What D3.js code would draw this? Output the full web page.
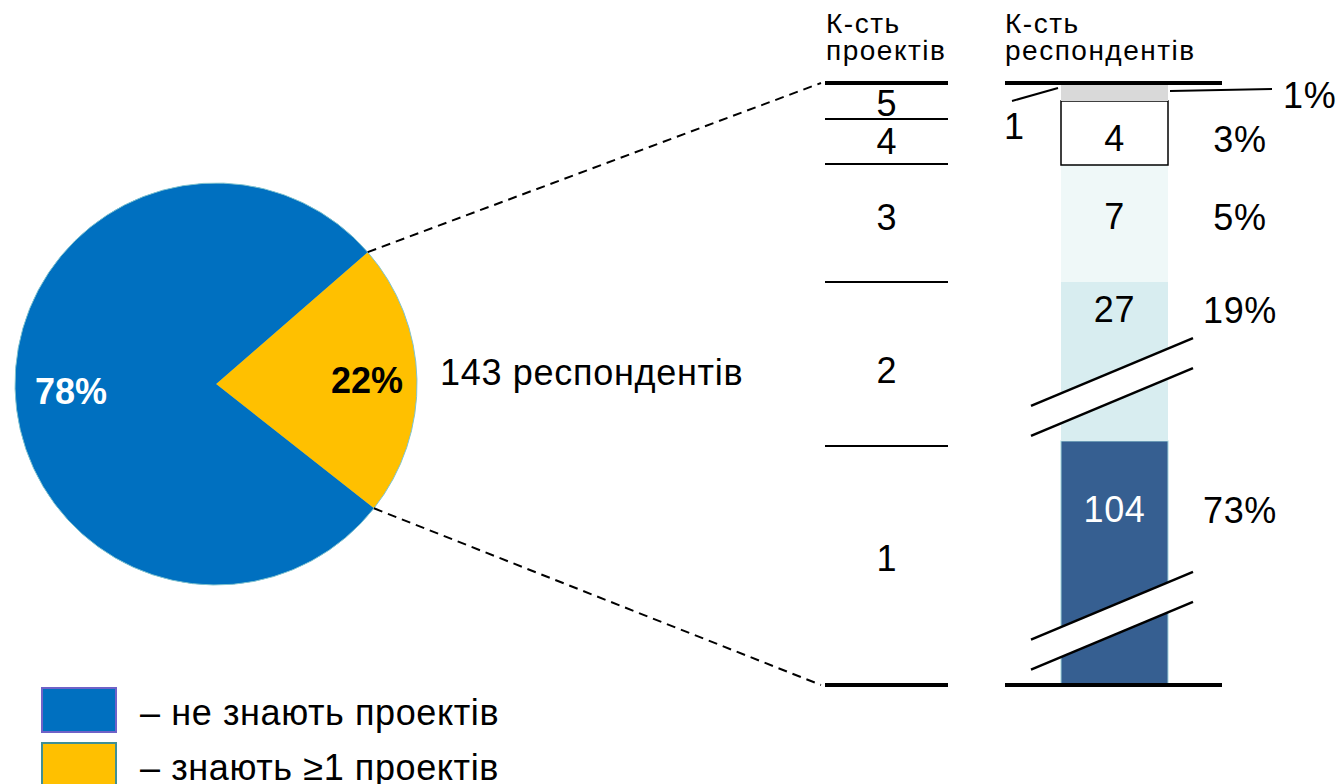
<!DOCTYPE html>
<html><head><meta charset="UTF-8">
<style>
body { margin: 0; background: #fff; }
text { font-family: "Liberation Sans", Arial, sans-serif; fill: #000; }
</style>
<script src="https://cdn.jsdelivr.net/npm/d3@7"></script>
</head><body>
<div id="chart"></div>
<script>
// pie: share of respondents
var pieLabels = ["знають ≥1 проектів", "не знають проектів"];
var pieValues = [22, 78];
var pieColors = ["#FFC000", "#0070C0"];
var pieBorders = ["#3F8F95", "#6F62C8"];

// breakdown of the 22%
var projects = [1, 2, 3, 4, 5];
var counts = [104, 27, 7, 4, 1];
var shares = [73, 19, 5, 3, 1];
var segColors = ["#365F91", "#D8EDF0", "#EFF8F8", "#FFFFFF", "#D9D9D9"];
var totalText = "143 респондентів";
var headers = [["К-сть", "проектів"], ["К-сть", "респондентів"]];

var W = 1344, H = 784;
var svg = d3.select("#chart").append("svg").attr("width", W).attr("height", H);
var FS = "36px", LS = "0.7px";

// ---- pie ----
var cx = 216, cy = 384, R = 201;
var start = 49 * Math.PI / 180;
var pie = d3.pie().sort(null).startAngle(start).endAngle(start + 2 * Math.PI);
var arcs = pie(pieValues);
var arc = d3.arc().innerRadius(0).outerRadius(R);
var labelR = [151, 145];

var pg = svg.append("g").attr("transform", "translate(" + cx + "," + cy + ")");
pg.selectAll("path").data(arcs).enter().append("path")
  .attr("d", arc)
  .attr("fill", (d, i) => pieColors[i])
  .attr("stroke", "#7FC3CF").attr("stroke-width", 1);
// cover the radial edges so only the rim keeps the thin border
pg.selectAll("path.edge").data(arcs).enter().append("path")
  .attr("class", "edge")
  .attr("d", d3.arc().innerRadius(0).outerRadius(R - 1))
  .attr("fill", (d, i) => pieColors[i]);

pg.selectAll("text").data(arcs).enter().append("text")
  .attr("x", (d, i) => d3.arc().innerRadius(labelR[i]).outerRadius(labelR[i]).centroid(d)[0])
  .attr("y", (d, i) => d3.arc().innerRadius(labelR[i]).outerRadius(labelR[i]).centroid(d)[1] + (i ? 4 : 0))
  .attr("text-anchor", "middle").attr("dy", "0.35em")
  .style("font-size", FS).style("font-weight", "bold")
  .style("fill", (d, i) => i === 0 ? "#000" : "#fff")
  .text(d => d.data + "%");

svg.append("text").attr("x", 440).attr("y", 372).attr("dy", "0.35em")
  .style("font-size", FS).style("letter-spacing", LS).text(totalText);

// ---- broken scales for the two columns ----
var yLeft = d3.scaleLinear().domain(d3.range(6)).range([685, 446, 282, 164, 119, 83]);
var yRight = d3.scaleLinear().domain(d3.range(6)).range([684, 441, 282, 165, 101, 85]);
var lx0 = 825, lx1 = 948;
var leftLabelPos = [0.53, 0.46, 0.55, 0.51, 0.42];
var cntLabelPos = [0.72, 0.83, 0.56, 0.42];

// dashed connectors from the yellow slice
var a0 = arcs[0].startAngle, a1 = arcs[0].endAngle;
[[a0, 5], [a1, 0]].forEach(function (p) {
  svg.append("line")
    .attr("x1", cx + R * Math.sin(p[0])).attr("y1", cy - R * Math.cos(p[0]))
    .attr("x2", lx0 - 4).attr("y2", yLeft(p[1]))
    .attr("stroke", "#000").attr("stroke-width", 2).attr("stroke-dasharray", "9,6");
});

svg.selectAll("line.lsep").data(d3.range(6)).enter().append("line")
  .attr("x1", lx0).attr("x2", lx1)
  .attr("y1", d => yLeft(d)).attr("y2", d => yLeft(d))
  .attr("stroke", "#000").attr("stroke-width", d => (d === 0 || d === 5) ? 4 : 2);

svg.selectAll("text.proj").data(projects).enter().append("text")
  .attr("x", (lx0 + lx1) / 2)
  .attr("y", (d, i) => yLeft(i + leftLabelPos[i])).attr("dy", "0.35em")
  .attr("text-anchor", "middle").style("font-size", FS)
  .text(d => d);

// headers
[826, 1005].forEach(function (x, k) {
  headers[k].forEach(function (s, i) {
    svg.append("text").attr("x", x).attr("y", 33 + i * 27)
      .style("font-size", "28px").style("letter-spacing", "1.5px").text(s);
  });
});

// ---- right stacked bar ----
var bx0 = 1061, bx1 = 1168;
var bg = svg.append("g");
bg.selectAll("rect").data(counts).enter().append("rect")
  .attr("x", bx0).attr("width", bx1 - bx0)
  .attr("y", (d, i) => yRight(i + 1))
  .attr("height", (d, i) => yRight(i) - yRight(i + 1))
  .attr("fill", (d, i) => segColors[i])
  .attr("stroke", (d, i) => i === 3 ? "#000" : (i === 0 ? "#9FD3DA" : "none"))
  .attr("stroke-width", (d, i) => i === 3 ? 1.5 : 1);

// break marks
var breaks = [[0, 0.74], [1, 0.66]];
breaks.forEach(function (b) {
  var yc = yRight(b[0] + 1) + b[1] * (yRight(b[0]) - yRight(b[0] + 1));
  var xa = 1031, xb = 1193, xm = (xa + xb) / 2, k = 0.418, g = 15;
  var ya = yc + k * (xm - xa), yb = yc - k * (xb - xm);
  bg.append("path")
    .attr("d", "M" + xa + "," + (ya - g) + "L" + xb + "," + (yb - g) + "L" + xb + "," + (yb + g) + "L" + xa + "," + (ya + g) + "Z")
    .attr("fill", "#fff");
  [-g, g].forEach(function (o) {
    bg.append("line").attr("x1", xa).attr("y1", ya + o).attr("x2", xb).attr("y2", yb + o)
      .attr("stroke", "#000").attr("stroke-width", 2.5);
  });
});

// value labels
svg.selectAll("text.cnt").data(counts.slice(0, 4)).enter().append("text")
  .attr("x", (bx0 + bx1) / 2)
  .attr("y", (d, i) => yRight(i + cntLabelPos[i]))
  .attr("dy", "0.35em").attr("text-anchor", "middle")
  .style("font-size", FS).style("letter-spacing", LS)
  .style("fill", (d, i) => i === 0 ? "#fff" : "#000")
  .text(d => d);

svg.selectAll("text.pct").data(shares.slice(0, 4)).enter().append("text")
  .attr("x", 1240)
  .attr("y", (d, i) => yRight(i + cntLabelPos[i]) + 1)
  .attr("dy", "0.35em").attr("text-anchor", "middle")
  .style("font-size", FS).style("letter-spacing", LS)
  .text(d => d + "%");

// smallest segment: callouts
svg.append("line").attr("x1", 1012).attr("y1", 101).attr("x2", bx0 - 3).attr("y2", 88)
  .attr("stroke", "#000").attr("stroke-width", 2);
svg.append("text").attr("x", 1014).attr("y", 126).attr("dy", "0.35em")
  .attr("text-anchor", "middle").style("font-size", FS).text(counts[4]);
svg.append("line").attr("x1", bx1 + 2).attr("y1", 91).attr("x2", 1272).attr("y2", 89)
  .attr("stroke", "#000").attr("stroke-width", 2);
svg.append("text").attr("x", 1283).attr("y", 95).attr("dy", "0.35em")
  .style("font-size", FS).style("letter-spacing", LS).text(shares[4] + "%");

// column base lines
[0, 5].forEach(function (i) {
  svg.append("line").attr("x1", 1005).attr("x2", 1222)
    .attr("y1", yLeft(i)).attr("y2", yLeft(i))
    .attr("stroke", "#000").attr("stroke-width", 4);
});

// ---- legend ----
var lg = svg.append("g");
[1, 0].forEach(function (k, j) {
  var y = 688 + j * 55;
  lg.append("rect").attr("x", 42).attr("y", y).attr("width", 74).attr("height", 44)
    .attr("fill", pieColors[k]).attr("stroke", pieBorders[k]).attr("stroke-width", 2);
  lg.append("text").attr("x", 140).attr("y", y + 24).attr("dy", "0.35em")
    .style("font-size", FS).style("letter-spacing", "0.6px").text("– " + pieLabels[k]);
});
</script>
</body></html>
